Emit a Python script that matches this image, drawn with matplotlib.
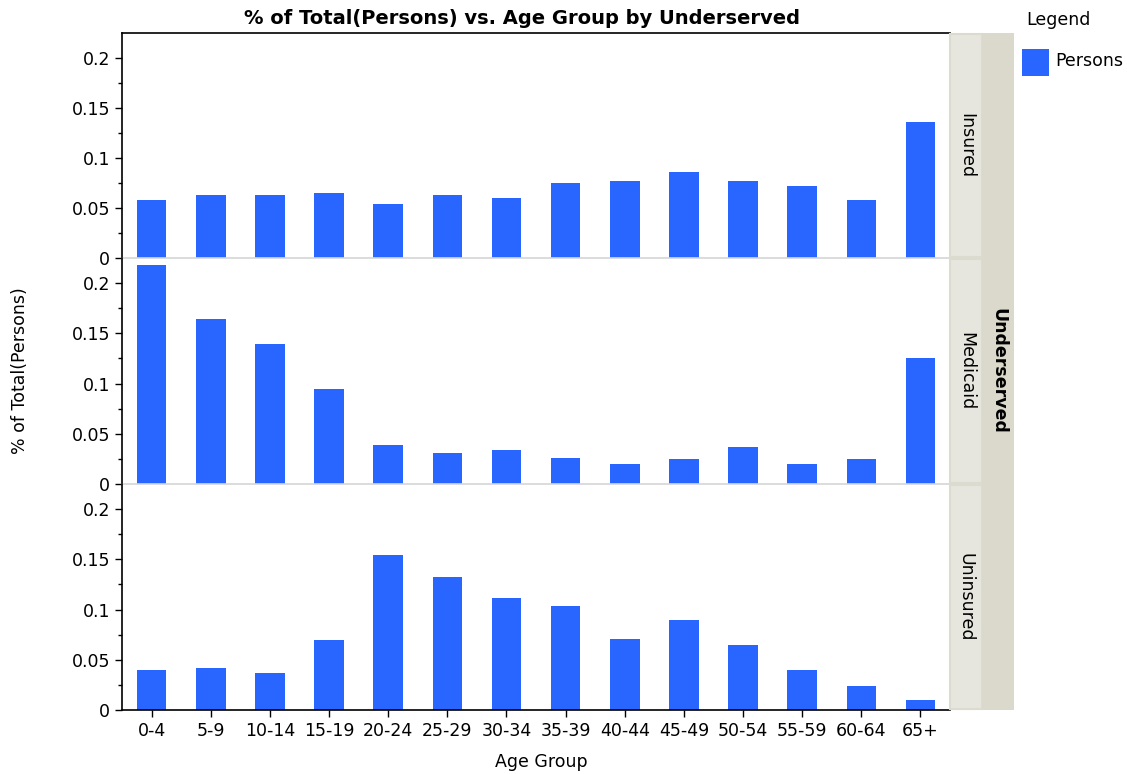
import numpy as np
import matplotlib.pyplot as plt
from matplotlib.patches import Rectangle
from matplotlib.ticker import FixedLocator

plt.rcParams['font.family'] = ['DejaVu Sans']

age_groups = ['0-4', '5-9', '10-14', '15-19', '20-24', '25-29', '30-34',
              '35-39', '40-44', '45-49', '50-54', '55-59', '60-64', '65+']
panels = ['Insured', 'Medicaid', 'Uninsured']
insured = [0.058, 0.063, 0.063, 0.065, 0.054, 0.063, 0.060,
           0.075, 0.077, 0.086, 0.077, 0.072, 0.058, 0.136]
medicaid = [0.218, 0.164, 0.139, 0.095, 0.039, 0.031, 0.034,
            0.026, 0.020, 0.025, 0.037, 0.020, 0.025, 0.125]
uninsured = [0.040, 0.042, 0.037, 0.070, 0.154, 0.132, 0.112,
             0.104, 0.071, 0.090, 0.065, 0.040, 0.024, 0.010]
series = [insured, medicaid, uninsured]

W, H = 1127, 774
fig = plt.figure(figsize=(W / 100, H / 100), dpi=100)

def fx(px):
    return px / W

def fy(py):
    return 1 - py / H

fs = 12.5
bar_color = '#2966FF'
left, right = 122, 950
tops = [33, 258, 484]
bots = [258, 484, 710]
x = np.arange(len(age_groups))

for i in range(3):
    ax = fig.add_axes([fx(left), fy(bots[i]), fx(right - left), (bots[i] - tops[i]) / H])
    ax.bar(x, series[i], width=0.5, color=bar_color, zorder=2)
    ax.set_xlim(-0.5, len(age_groups) - 0.5)
    ax.set_ylim(0, 0.225)
    ax.set_yticks([0, 0.05, 0.1, 0.15, 0.2])
    ax.set_yticklabels(['0', '0.05', '0.1', '0.15', '0.2'])
    ax.yaxis.set_minor_locator(FixedLocator([0.025, 0.075, 0.125, 0.175]))
    ax.tick_params(axis='y', labelsize=fs, length=5, width=1, direction='out')
    ax.tick_params(axis='y', which='minor', length=3, width=1)
    ax.spines['right'].set_visible(False)
    ax.spines['left'].set_linewidth(1.2)
    if i == 0:
        ax.spines['top'].set_linewidth(1.2)
    else:
        ax.spines['top'].set_visible(False)
    if i < 2:
        ax.spines['bottom'].set_color('#d6d6d6')
        ax.spines['bottom'].set_linewidth(1.2)
        ax.set_xticks([])
    else:
        ax.spines['bottom'].set_linewidth(1.2)
        ax.set_xticks(x)
        ax.set_xticklabels(age_groups)
        ax.tick_params(axis='x', labelsize=fs, length=5, width=1)
    ax.patch.set_alpha(0)

    # inner strip
    fig.patches.append(Rectangle((fx(950), fy(bots[i] - 1)), fx(32), (bots[i] - tops[i] - 2) / H,
                                 transform=fig.transFigure, facecolor='#E6E6DF',
                                 edgecolor='#DCDBCF', linewidth=1.5, zorder=1))
    fig.text(fx(966), fy((tops[i] + bots[i]) / 2), panels[i], rotation=-90,
             ha='center', va='center', fontsize=fs)

# outer strip
fig.patches.append(Rectangle((fx(982), fy(710)), fx(32), (710 - 33) / H,
                             transform=fig.transFigure, facecolor='#DAD9CB',
                             edgecolor='none', zorder=1))
fig.text(fx(998), fy(371), 'Underserved', rotation=-90, ha='center', va='center',
         fontsize=fs, fontweight='bold')

fig.text(fx(522), fy(18), '% of Total(Persons) vs. Age Group by Underserved',
         ha='center', va='center', fontsize=14, fontweight='bold')
fig.text(fx(20), fy(371), '% of Total(Persons)', rotation=90, ha='center', va='center',
         fontsize=fs)
fig.text(fx(541), fy(762), 'Age Group', ha='center', va='center', fontsize=fs)

# legend
fig.text(fx(1026), fy(20), 'Legend', ha='left', va='center', fontsize=fs)
fig.patches.append(Rectangle((fx(1022), fy(76)), fx(27), 27 / H,
                             transform=fig.transFigure, facecolor=bar_color,
                             edgecolor='none'))
fig.text(fx(1055), fy(61), 'Persons', ha='left', va='center', fontsize=fs)

fig.savefig('out.png', dpi=100)
